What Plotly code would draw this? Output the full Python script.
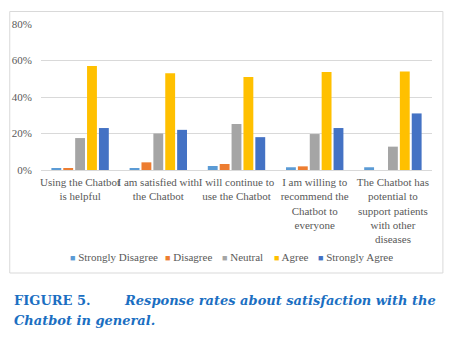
import plotly.graph_objects as go

categories = [
    "Using the Chatbot<br>is helpful",
    "I am satisfied with<br>the Chatbot",
    "I will continue to<br>use the Chatbot",
    "I am willing to<br>recommend the<br>Chatbot to<br>everyone",
    "The Chatbot has<br>potential to<br>support patients<br>with other<br>diseases",
]
series_names = ["Strongly Disagree", "Disagree", "Neutral", "Agree", "Strongly Agree"]
strongly_disagree = [1.0, 1.0, 2.2, 1.5, 1.5]
disagree = [1.0, 4.2, 3.3, 2.0, 0.0]
neutral = [17.5, 20.0, 25.2, 19.7, 12.8]
agree = [57.0, 53.0, 51.0, 53.7, 54.0]
strongly_agree = [23.0, 22.0, 18.0, 23.0, 31.0]
series_values = [strongly_disagree, disagree, neutral, agree, strongly_agree]
colors = ["#5B9BD5", "#ED7D31", "#A5A5A5", "#FFC000", "#4472C4"]
y_ticks = [0, 20, 40, 60, 80]
y_ticklabels = ["0%", "20%", "40%", "60%", "80%"]

W, H = 458, 342
L, R, T, B = 38, 432, 24, 170  # plot area pixel bounds

def px(x):
    return (x - L) / (R - L)

def py(y):
    return (B - y) / (B - T)

fig = go.Figure()
for name, vals, col in zip(series_names, series_values, colors):
    fig.add_trace(go.Bar(
        x=list(range(len(categories))), y=vals, name=name,
        marker=dict(color=col, line=dict(width=0)),
        showlegend=False,
    ))

SERIF = "Liberation Serif, Times New Roman, serif"
tfont = dict(family=SERIF, size=11, color="#595959")

fig.update_layout(
    width=W, height=H,
    margin=dict(l=L, r=W - R, t=T, b=H - B, pad=0),
    paper_bgcolor="white", plot_bgcolor="white",
    barmode="group", bargap=0.24, bargroupgap=0.17,
    font=tfont,
    xaxis=dict(
        tickvals=list(range(len(categories))), ticktext=categories,
        range=[-0.5, len(categories) - 0.5], tickangle=0,
        showgrid=False, showline=False, ticks="", zeroline=False,
        tickfont=tfont, ticklabelstandoff=4,
    ),
    yaxis=dict(
        range=[0, 80], tickvals=y_ticks, ticktext=y_ticklabels,
        showgrid=True, gridcolor="#D9D9D9", gridwidth=1,
        zeroline=True, zerolinecolor="#D9D9D9", zerolinewidth=1,
        showline=False, ticks="", tickfont=tfont, ticklabelstandoff=8,
    ),
    showlegend=False,
)

# legend entries: coloured square glyph + series name
legend_x = [65, 161, 218, 271, 315]
for name, col, lx in zip(series_names, colors, legend_x):
    fig.add_annotation(xref="paper", yref="paper", x=px(lx), y=py(257),
                       xanchor="left", yanchor="middle", showarrow=False,
                       text=f'<span style="color:{col};font-size:9px">■</span> {name}',
                       font=tfont)

fig.add_shape(type="rect", xref="paper", yref="paper",
              x0=px(6.5), x1=px(443), y0=py(273), y1=py(11.5),
              line=dict(color="#D9D9D9", width=1), fillcolor="rgba(0,0,0,0)")

cap_color = "#1B6FC2"
cap_font = dict(family="DejaVu Serif", size=13, color=cap_color)
fig.add_annotation(xref="paper", yref="paper", x=px(9), y=py(300),
                   xanchor="left", yanchor="middle", showarrow=False,
                   text="<b>FIGURE 5.</b>", font=cap_font)
fig.add_annotation(xref="paper", yref="paper", x=px(438), y=py(300),
                   xanchor="right", yanchor="middle", showarrow=False,
                   text="<b><i>Response rates about satisfaction with the</i></b>",
                   font=cap_font)
fig.add_annotation(xref="paper", yref="paper", x=px(9), y=py(320),
                   xanchor="left", yanchor="middle", showarrow=False,
                   text="<b><i>Chatbot in general.</i></b>", font=cap_font)

fig.write_html("out.html")
